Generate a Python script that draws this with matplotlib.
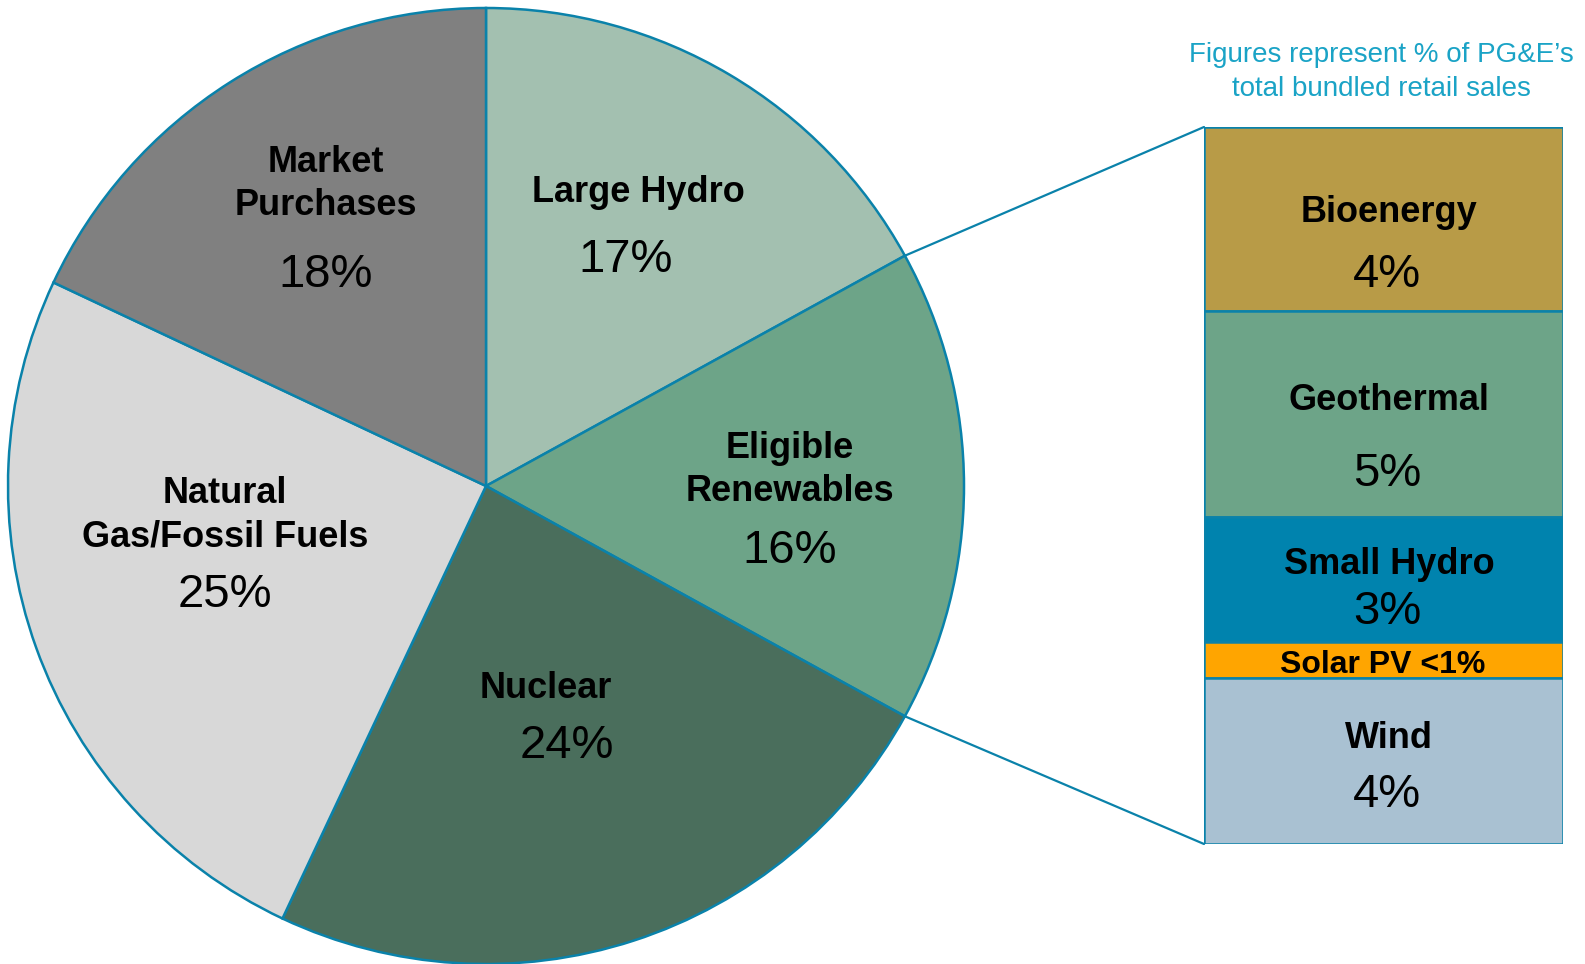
import numpy as np
import matplotlib.pyplot as plt
from matplotlib.patches import ConnectionPatch

plt.rcParams['font.family'] = ['Liberation Sans', 'DejaVu Sans']

# pie data (clockwise from 12 o'clock)
pie_labels = ["Large Hydro", "Eligible\nRenewables", "Nuclear",
              "Natural\nGas/Fossil Fuels", "Market\nPurchases"]
pie_values = [17, 16, 24, 25, 18]
pie_pct = ["17%", "16%", "24%", "25%", "18%"]
pie_colors = ["#a3c0b0", "#6da488", "#4a6e5c", "#d8d8d8", "#808080"]

# breakdown of eligible renewables (top to bottom)
ren_labels = ["Bioenergy", "Geothermal", "Small Hydro", "Solar PV", "Wind"]
ren_values = [4.1, 4.6, 2.8, 0.8, 3.7]
ren_pct = ["4%", "5%", "3%", "<1%", "4%"]
ren_colors = ["#b89b47", "#6da488", "#0083ae", "#ffa500", "#a9c1d2"]

edge = "#0a82aa"
W, H = 1585, 964

fig = plt.figure(figsize=(W / 100, H / 100), dpi=100)

# pie axes, square of 956 px
ax = fig.add_axes([8 / W, 0, 956 / W, 956 / H])
wedges, _ = ax.pie(pie_values, colors=pie_colors, startangle=90, counterclock=False,
                   wedgeprops=dict(edgecolor=edge, linewidth=1.8))
ax.set_xlim(-1, 1)
ax.set_ylim(-1, 1)

# stacked bar
bx = fig.add_axes([1204 / W, 120 / H, 359 / W, 717 / H])
total = sum(ren_values)
top = total
for v, c in zip(ren_values, ren_colors):
    bx.bar(0, v, bottom=top - v, width=1, color=c, edgecolor=edge, linewidth=1.8)
    top -= v
bx.set_xlim(-0.5, 0.5)
bx.set_ylim(0, total)
bx.axis("off")

# connector lines
w = wedges[1]
for th, yb in [(w.theta2, total), (w.theta1, 0)]:
    p = (w.r * np.cos(np.radians(th)), w.r * np.sin(np.radians(th)))
    con = ConnectionPatch(xyA=p, coordsA=ax.transData, xyB=(-0.5, yb), coordsB=bx.transData,
                          color=edge, linewidth=1.6)
    fig.add_artist(con)


def px(x, y, s, **kw):
    fig.text(x / W, 1 - y / H, s, ha="center", va="center", **kw)


# pie labels (pixel positions)
name_pos = [(638, 193), (790, 470), (546, 688), (225, 515), (326, 184)]
pct_pos = [(626, 260), (790, 551), (567, 746), (225, 595), (326, 275)]
for lab, pct, (nx, ny), (qx, qy) in zip(pie_labels, pie_pct, name_pos, pct_pos):
    px(nx, ny, lab, fontsize=26, fontweight="bold", linespacing=1.33)
    px(qx, qy, pct, fontsize=34)

# bar labels
bname_pos = [212, 400, 564, None, 739]
bpct_pos = [275, 474, 612, None, 795]
for lab, pct, ny, qy in zip(ren_labels, ren_pct, bname_pos, bpct_pos):
    if ny is None:
        px(1383, 665, lab + " " + pct, fontsize=23, fontweight="bold")
        continue
    px(1389, ny, lab, fontsize=26, fontweight="bold")
    px(1387, qy, pct, fontsize=34)

px(1381, 72, "Figures represent % of PG&E\u2019s\ntotal bundled retail sales",
   fontsize=20, color="#1aa3c6", linespacing=1.45)

fig.savefig("out.png", dpi=100)
